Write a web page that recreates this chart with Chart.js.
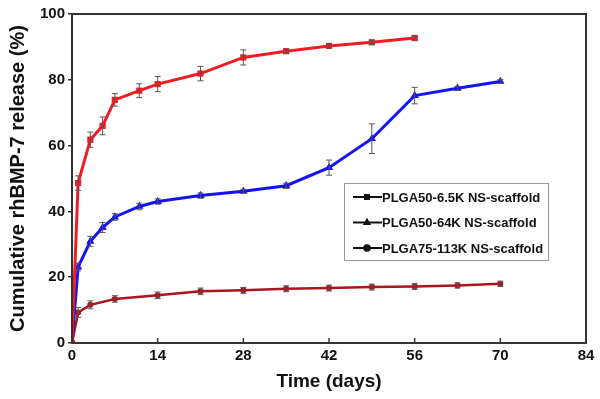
<!DOCTYPE html>
<html>
<head>
<meta charset="utf-8">
<script src="https://cdn.jsdelivr.net/npm/chart.js@4/dist/chart.umd.min.js"></script>
<style>
  body { margin: 0; background: #fff; }
  #wrap { width: 600px; height: 399px; }
</style>
</head>
<body>
<div id="wrap"><canvas id="releaseChart" width="600" height="399"></canvas></div>
<script>
// rhBMP-7 cumulative release from NS-scaffolds
const xTicks = [0, 14, 28, 42, 56, 70, 84];
const yTicks = [0, 20, 40, 60, 80, 100];

const labels = ['PLGA50-6.5K NS-scaffold', 'PLGA50-64K NS-scaffold', 'PLGA75-113K NS-scaffold'];

const daysA = [0, 1, 3, 5, 7, 11, 14, 21, 28, 35, 42, 49, 56];
const releaseA = [0, 48.6, 61.8, 66, 73.9, 76.7, 78.7, 81.9, 86.8, 88.7, 90.3, 91.4, 92.7];
const errA = [0, 2.2, 2.3, 2.7, 1.9, 2.1, 2.3, 2.2, 2.3, 0.5, 0.6, 0.6, 0.6];

const daysB = [0, 1, 3, 5, 7, 11, 14, 21, 28, 35, 42, 49, 56, 63, 70];
const releaseB = [0, 23.1, 30.9, 35.1, 38.3, 41.5, 43, 44.8, 46.1, 47.8, 53.3, 62.1, 75.2, 77.4, 79.5];
const errB = [0, 1.2, 1.5, 1.5, 1.0, 1.0, 0.8, 0.8, 0.6, 0.8, 2.3, 4.5, 2.5, 0.6, 0.6];

const daysC = [0, 1, 3, 7, 14, 21, 28, 35, 42, 49, 56, 63, 70];
const releaseC = [0, 9.3, 11.6, 13.4, 14.5, 15.7, 16, 16.5, 16.7, 17, 17.2, 17.5, 18];
const errC = [0, 1.5, 1.2, 1.0, 1.0, 1.0, 0.9, 0.9, 0.9, 0.9, 0.9, 0.8, 0.8];

function toPoints(days, vals) {
  return days.map((d, i) => ({ x: d, y: vals[i] }));
}

const errors = [errA, errB, errC];
const legendStyles = ['rect', 'triangle', 'circle'];

// error bars + frame + inward x ticks + legend box
const errorBars = {
  id: 'errorBars',
  afterDatasetsDraw(chart) {
    const ctx = chart.ctx;
    const xs = chart.scales.x, ys = chart.scales.y;
    ctx.save();
    ctx.strokeStyle = '#555';
    ctx.lineWidth = 1;
    chart.data.datasets.forEach((ds, k) => {
      ds.data.forEach((p, i) => {
        const e = errors[k][i];
        if (!e) return;
        const px = xs.getPixelForValue(p.x);
        const top = ys.getPixelForValue(p.y + e);
        const bot = ys.getPixelForValue(p.y - e);
        ctx.beginPath();
        ctx.moveTo(px, top); ctx.lineTo(px, bot);
        ctx.moveTo(px - 3, top); ctx.lineTo(px + 3, top);
        ctx.moveTo(px - 3, bot); ctx.lineTo(px + 3, bot);
        ctx.stroke();
      });
    });
    ctx.restore();
  },
  afterDraw(chart) {
    const ctx = chart.ctx;
    const a = chart.chartArea;
    const xs = chart.scales.x;
    ctx.save();
    ctx.strokeStyle = '#333';
    ctx.lineWidth = 2;
    ctx.strokeRect(a.left, a.top, a.right - a.left, a.bottom - a.top);
    ctx.lineWidth = 1.5;
    xTicks.forEach(t => {
      const px = xs.getPixelForValue(t);
      ctx.beginPath();
      ctx.moveTo(px, a.bottom);
      ctx.lineTo(px, a.bottom - 5);
      ctx.stroke();
    });

    // legend box
    const bx = 344, by = 183, bw = 204, bh = 77;
    ctx.fillStyle = '#fff';
    ctx.fillRect(bx, by, bw, bh);
    ctx.strokeStyle = '#999';
    ctx.lineWidth = 1;
    ctx.strokeRect(bx + 0.5, by + 0.5, bw, bh);
    ctx.font = 'bold 13px Arial, "Liberation Sans", sans-serif';
    ctx.textBaseline = 'middle';
    chart.data.datasets.forEach((ds, k) => {
      const cy = by + 14 + k * 25.5;
      ctx.strokeStyle = '#111';
      ctx.lineWidth = 2;
      ctx.beginPath();
      ctx.moveTo(353, cy); ctx.lineTo(382, cy);
      ctx.stroke();
      ctx.fillStyle = '#111';
      Chart.helpers.drawPoint(ctx, { pointStyle: legendStyles[k], radius: 2.8, borderWidth: 1 }, 367, cy);
      ctx.fillStyle = '#111';
      ctx.fillText(ds.label, 382, cy + 1);
    });
    ctx.restore();
  }
};

const ctx = document.getElementById('releaseChart');
new Chart(ctx, {
  type: 'line',
  data: {
    datasets: [
      {
        label: labels[0],
        data: toPoints(daysA, releaseA),
        borderColor: '#ee1c24',
        backgroundColor: '#ee1c24',
        borderWidth: 3,
        pointStyle: 'rect',
        pointRadius: 4.4,
        pointBorderWidth: 0
      },
      {
        label: labels[1],
        data: toPoints(daysB, releaseB),
        borderColor: '#1414f0',
        backgroundColor: '#1414f0',
        borderWidth: 3,
        pointStyle: 'triangle',
        pointRadius: 4.8,
        pointBorderWidth: 0
      },
      {
        label: labels[2],
        data: toPoints(daysC, releaseC),
        borderColor: '#a8161e',
        backgroundColor: '#a8161e',
        borderWidth: 2.5,
        pointStyle: 'circle',
        pointRadius: 3,
        pointBorderWidth: 0
      }
    ]
  },
  options: {
    responsive: false,
    animation: false,
    layout: { padding: { top: 14, right: 14, left: 0, bottom: 0 } },
    plugins: { legend: { display: false }, tooltip: { enabled: false } },
    scales: {
      x: {
        type: 'linear',
        min: 0,
        max: 84,
        afterBuildTicks: s => { s.ticks = xTicks.map(v => ({ value: v })); },
        afterFit: s => { s.height = 56; },
        grid: { display: false, drawTicks: false },
        border: { display: false },
        ticks: { color: '#111', padding: 4, font: { family: 'Arial, "Liberation Sans", sans-serif', size: 15, weight: 'bold' } },
        title: {
          display: true,
          text: 'Time (days)',
          color: '#111',
          padding: { top: 0, bottom: 6 },
          font: { family: 'Arial, "Liberation Sans", sans-serif', size: 19, weight: 'bold' }
        }
      },
      y: {
        min: 0,
        max: 100,
        afterBuildTicks: s => { s.ticks = yTicks.map(v => ({ value: v })); },
        afterFit: s => { s.width = 72; },
        grid: { drawOnChartArea: false, drawTicks: true, tickLength: 4, color: '#333', lineWidth: 1.5 },
        border: { display: false },
        ticks: { color: '#111', padding: 3, font: { family: 'Arial, "Liberation Sans", sans-serif', size: 15, weight: 'bold' } },
        title: {
          display: true,
          text: 'Cumulative rhBMP-7 release (%)',
          color: '#111',
          padding: { top: 6, bottom: 0 },
          font: { family: 'Arial, "Liberation Sans", sans-serif', size: 20, weight: 'bold' }
        }
      }
    }
  },
  plugins: [errorBars]
});
</script>
</body>
</html>
